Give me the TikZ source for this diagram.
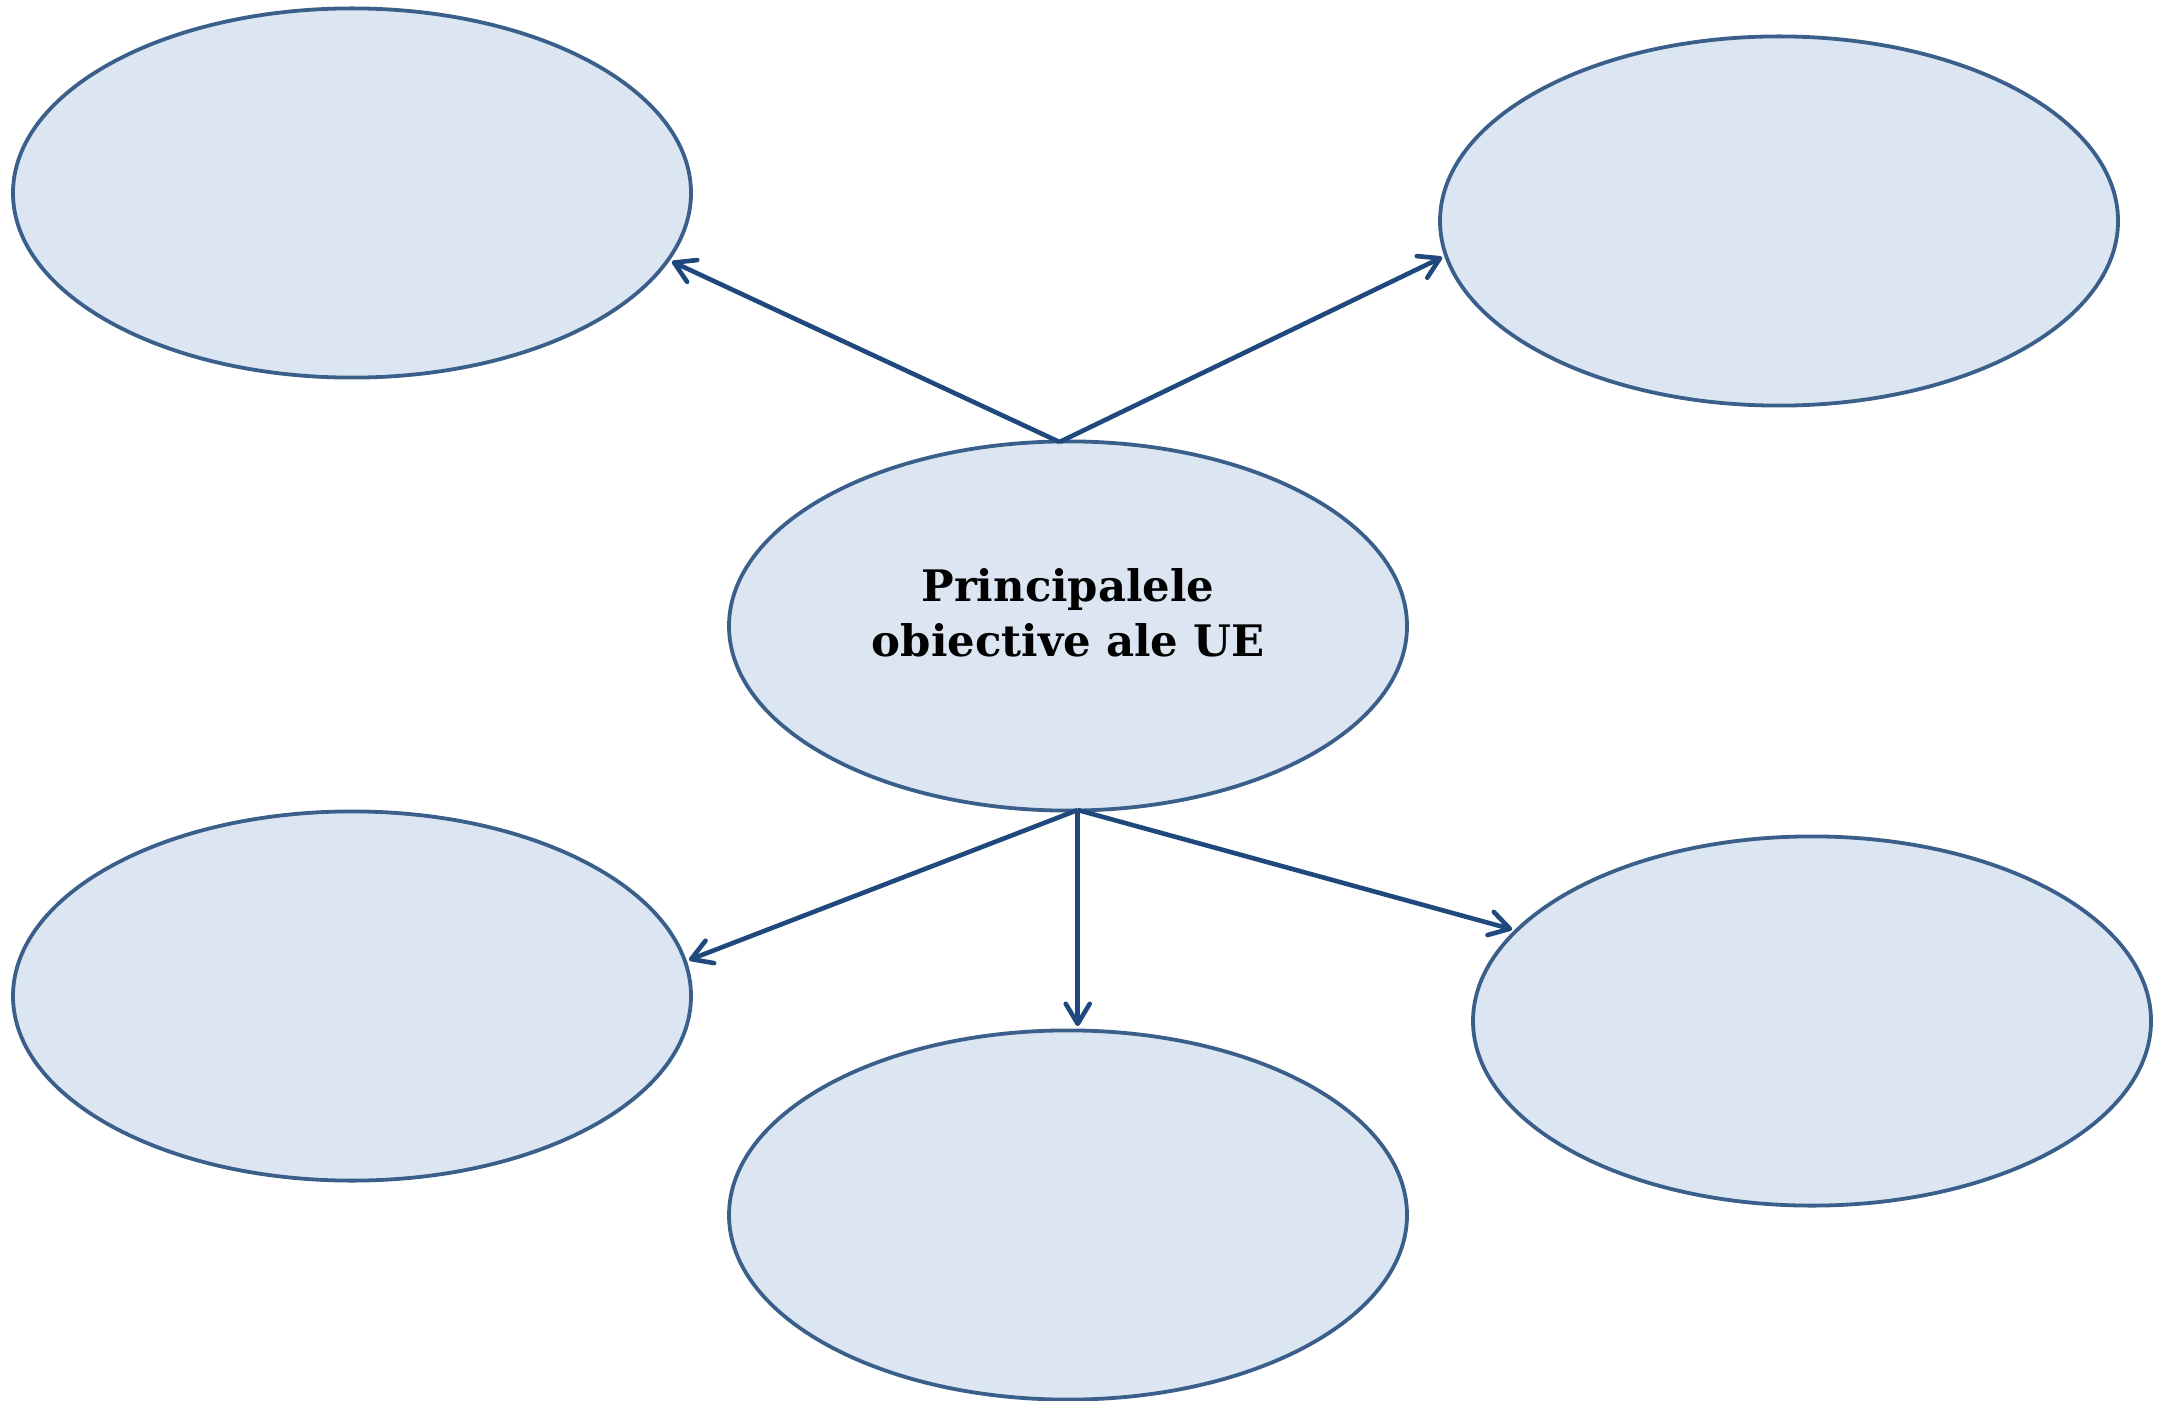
\documentclass[tikz,border=0pt]{standalone}
\usepackage{fontspec}
\newfontfamily\labelfont{DejaVu Serif}[BoldFont={DejaVu Serif Bold}]
\usetikzlibrary{shapes.geometric,arrows.meta}
\definecolor{ovalline}{HTML}{3A5F8B}
\definecolor{ovalfill}{HTML}{DCE6F2}
\definecolor{arrowcol}{HTML}{1F497D}
\tikzset{
  oval/.style={ellipse, draw=ovalline, fill=ovalfill, line width=0.95pt,
    minimum width=169.5pt, minimum height=92.3pt, inner sep=0pt},
  conn/.style={draw=arrowcol, line width=1.15pt, shorten >=0.6pt,
    -{Straight Barb[length=5pt,width=6pt,round]}},
  maintext/.style={align=center, inner sep=0pt,
    font=\labelfont\bfseries\fontsize{10.85pt}{13.75pt}\selectfont}
}
\begin{document}
\begin{tikzpicture}[x=0.25pt,y=-0.25pt]
\useasboundingbox (0,0) rectangle (2158,1400);
\node[oval] (tl) at (352,193) {};
\node[oval] (tr) at (1779,221) {};
\node[oval] (c) at (1068,626) {};
\node[oval] (bl) at (352,996) {};
\node[oval] (bm) at (1068,1215) {};
\node[oval] (r) at (1812,1021) {};
\node[maintext] (ct) at (1068,613) {Principalele\\obiective ale UE};
\coordinate (ctop) at (1059.5,442);
\coordinate (cbot) at (1077.7,810);
\draw[conn] (ctop) -- (tl.-12.1);
\draw[conn] (ctop) -- (tr.186.85);
\draw[conn] (cbot) -- (bl.6.1);
\draw[conn] (cbot) -- (cbot |- bm.north);
\draw[conn] (cbot) -- (r.163.3);
\end{tikzpicture}
\end{document}
